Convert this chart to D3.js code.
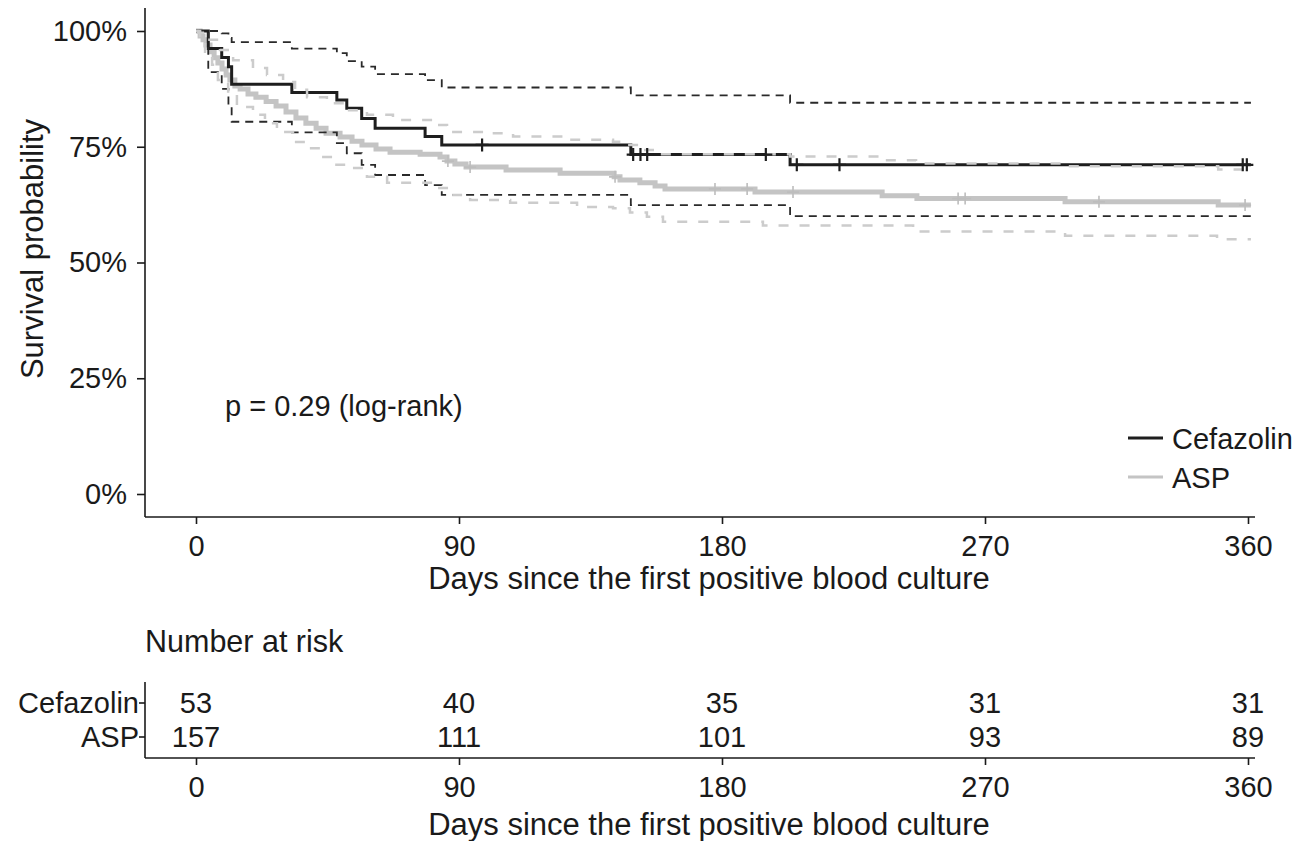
<html>
<head>
<meta charset="utf-8">
<title>Survival</title>
<style>
  body { margin: 0; background: #fff; }
  text { font-family: "Liberation Sans", Arial, sans-serif; font-size: 29px; fill: #1a1a1a; }
  .title { font-size: 31px; }
  .axis-line { stroke: #1a1a1a; stroke-width: 1.6; }
  .tick line { stroke: #1a1a1a; stroke-width: 1.6; }
  .main { fill: none; }
  .ci { fill: none; }
</style>
</head>
<body>
<svg width="1299" height="841"></svg>
<script src="https://cdnjs.cloudflare.com/ajax/libs/d3/7.8.5/d3.min.js"></script>
<script>
// Cefazolin: step times (days) and KM estimate with 95% CI
var cefTime  = [0, 4.2, 8.8, 11.1, 12.2, 32.8, 48.2, 51.6, 56.7, 61.3, 78.4, 84.1, 148.8, 203.3, 361];
var cefSurv  = [1, 0.962, 0.943, 0.923, 0.885, 0.867, 0.851, 0.833, 0.811, 0.790, 0.772, 0.754, 0.733, 0.711, 0.711];
var cefUpper = [1, 1, 0.995, 0.985, 0.976, 0.962, 0.952, 0.935, 0.923, 0.907, 0.894, 0.878, 0.861, 0.845, 0.845];
var cefLower = [1, 0.911, 0.875, 0.84, 0.804, 0.781, 0.758, 0.736, 0.711, 0.689, 0.667, 0.646, 0.624, 0.600, 0.600];
var cefCensor = [97.9, 149.6, 152.1, 154.4, 195, 205.6, 220.2, 358.2, 359.6];

// ASP
var aspTime = [0, 1.4, 2.4, 3.4, 4.8, 6.2, 7.5, 8.9, 10.3, 11.6, 13.3, 15.1, 17.8, 20.5, 24, 27.4, 30.8, 34.2, 37.6, 41.1,
               44.5, 49.3, 53.4, 56.8, 61.6, 66.4, 76.7, 83.5, 85.9, 88.6, 92.4, 106.1, 124.6, 143.1, 145.1, 151.9, 157.1,
               160.5, 191.3, 234.8, 246.7, 297.4, 349.8, 361];
var aspSurv = [1, .989, .981, .970, .955, .942, .931, .918, .905, .894, .881, .875, .864, .857, .848, .838, .825, .812, .801, .790,
               .779, .771, .762, .754, .745, .738, .734, .728, .719, .713, .706, .700, .693, .685, .678, .672, .665,
               .659, .652, .644, .638, .631, .624, .624];
var aspUpTime = [0, 0.7, 3.8, 8.2, 12.7, 19.5, 24.3, 29.8, 33.9, 38, 44.8, 51.7, 58.5, 67.4, 81.1, 85.9, 99.6, 108.5, 128,
                 142.7, 147.5, 151.9, 157.1, 203.3, 234.1, 246.4, 297.7, 349.8, 361];
var aspUpper  = [1, .996, .981, .959, .937, .920, .905, .890, .873, .857, .844, .829, .819, .808, .797, .782, .779, .772, .765,
                 .761, .754, .743, .734, .729, .721, .714, .708, .701, .701];
var aspLoTime = [0, 1.4, 3.1, 5.5, 7.5, 11, 14, 19.5, 23.6, 27.7, 33.2, 38, 42.4, 46.9, 51.7, 58.5, 65.4, 81.1, 86.9, 93.8,
                 107.5, 130.4, 142.7, 148.5, 154.3, 159.8, 194, 245.4, 297.4, 349.4, 361];
var aspLower  = [1, .976, .955, .927, .894, .862, .836, .819, .801, .782, .760, .747, .728, .711, .704, .685, .672, .661, .646, .635,
                 .629, .620, .617, .608, .599, .588, .580, .567, .558, .550, .550];
var aspCensor = [86.2, 93.8, 143.4, 177.6, 188.6, 204.3, 260.8, 263.2, 309, 359];

// number at risk table
var riskTicks = [0, 90, 180, 270, 360];
var cefRisk = [53, 40, 35, 31, 31];
var aspRisk = [157, 111, 101, 93, 89];
var yTicks = [0, 0.25, 0.5, 0.75, 1];

var svg = d3.select("svg");

var x = d3.scaleLinear().domain([0, 360]).range([196, 1248]);
var y = d3.scaleLinear().domain([0, 1]).range([494, 31]);

var panelLeft = 145, panelRight = 1255, panelTop = 8, panelBottom = 517;

var step = d3.line()
    .x(function(d) { return x(d[0]); })
    .y(function(d) { return y(d[1]); })
    .curve(d3.curveStepAfter);

function pairs(t, v) { return t.map(function(d, i) { return [d, v[i]]; }); }
function valueAt(t, v, day) { return v[d3.bisectRight(t, day) - 1]; }

// main curves
svg.append("path").attr("class", "main")
    .attr("d", step(pairs(aspTime, aspSurv)))
    .attr("stroke", "#c4c4c4").attr("stroke-width", 5);
svg.append("path").attr("class", "main")
    .attr("d", step(pairs(cefTime, cefSurv)))
    .attr("stroke", "#1e1e1e").attr("stroke-width", 3);

// confidence bands
[cefUpper, cefLower].forEach(function(b) {
  svg.append("path").attr("class", "ci")
      .attr("d", step(pairs(cefTime, b)))
      .attr("stroke", "#2a2a2a").attr("stroke-width", 1.8)
      .attr("stroke-dasharray", "8,6");
});
[[aspUpTime, aspUpper], [aspLoTime, aspLower]].forEach(function(b) {
  svg.append("path").attr("class", "ci")
      .attr("d", step(pairs(b[0], b[1])))
      .attr("stroke", "#cccccc").attr("stroke-width", 2.5)
      .attr("stroke-dasharray", "10,11");
});

// censor marks
function crosses(days, t, v, color, w, h) {
  svg.append("g").selectAll("path")
    .data(days)
    .enter().append("path")
      .attr("d", function(d) {
        var cx = x(d), cy = y(valueAt(t, v, d));
        return "M" + (cx - h) + "," + cy + "H" + (cx + h) + "M" + cx + "," + (cy - h) + "V" + (cy + h);
      })
      .attr("stroke", color).attr("stroke-width", w).attr("fill", "none");
}
crosses(aspCensor, aspTime, aspSurv, "#bdbdbd", 1.6, 6);
crosses(cefCensor, cefTime, cefSurv, "#1e1e1e", 2.2, 6.5);

// axes
var yAxis = svg.append("g")
    .attr("transform", "translate(" + panelLeft + ",0)")
    .call(d3.axisLeft(y).tickValues(yTicks).tickFormat(d3.format(".0%")).tickSize(8).tickPadding(10));
yAxis.select(".domain").remove();
yAxis.selectAll("text").style("font-size", "29px").attr("fill", "#1a1a1a");

var xAxis = svg.append("g")
    .attr("transform", "translate(0," + panelBottom + ")")
    .call(d3.axisBottom(x).tickValues(riskTicks).tickSize(7).tickPadding(11));
xAxis.select(".domain").remove();
xAxis.selectAll("text").style("font-size", "29px").attr("fill", "#1a1a1a");

svg.append("line").attr("class", "axis-line")
    .attr("x1", panelLeft).attr("x2", panelLeft).attr("y1", panelTop).attr("y2", panelBottom);
svg.append("line").attr("class", "axis-line")
    .attr("x1", panelLeft).attr("x2", panelRight).attr("y1", panelBottom).attr("y2", panelBottom);

svg.append("text").attr("class", "title")
    .attr("transform", "translate(43,249) rotate(-90)")
    .attr("text-anchor", "middle")
    .text("Survival probability");

svg.append("text").attr("class", "title")
    .attr("x", 709).attr("y", 589)
    .attr("text-anchor", "middle")
    .text("Days since the first positive blood culture");

svg.append("text")
    .attr("x", 225).attr("y", 416)
    .text("p = 0.29 (log-rank)");

// legend
var legend = [["Cefazolin", "#1e1e1e", 438], ["ASP", "#c4c4c4", 477]];
legend.forEach(function(l) {
  svg.append("line")
      .attr("x1", 1128).attr("x2", 1163).attr("y1", l[2]).attr("y2", l[2])
      .attr("stroke", l[1]).attr("stroke-width", 3);
  svg.append("text").attr("x", 1172).attr("y", l[2] + 11).text(l[0]);
});

// risk table
svg.append("text").attr("x", 145).attr("y", 652).style("font-size", "30.5px").text("Number at risk");

var rows = [["Cefazolin", cefRisk, 703], ["ASP", aspRisk, 737]];
rows.forEach(function(r) {
  svg.append("text")
      .attr("x", 139).attr("y", r[2] + 10)
      .attr("text-anchor", "end")
      .text(r[0]);
  svg.append("line")
      .attr("x1", 139).attr("x2", panelLeft).attr("y1", r[2]).attr("y2", r[2])
      .attr("stroke", "#1a1a1a").attr("stroke-width", 1.6);
  svg.append("g").selectAll("text")
    .data(r[1])
    .enter().append("text")
      .attr("x", function(d, i) { return x(riskTicks[i]); })
      .attr("y", r[2] + 10)
      .attr("text-anchor", "middle")
      .text(function(d) { return d; });
});

var tAxis = svg.append("g")
    .attr("transform", "translate(0,758)")
    .call(d3.axisBottom(x).tickValues(riskTicks).tickSize(7).tickPadding(11));
tAxis.select(".domain").remove();
tAxis.selectAll("text").style("font-size", "29px").attr("fill", "#1a1a1a");

svg.append("line").attr("class", "axis-line")
    .attr("x1", panelLeft).attr("x2", panelLeft).attr("y1", 682).attr("y2", 758);
svg.append("line").attr("class", "axis-line")
    .attr("x1", panelLeft).attr("x2", panelRight).attr("y1", 758).attr("y2", 758);

svg.append("text").attr("class", "title")
    .attr("x", 709).attr("y", 835)
    .attr("text-anchor", "middle")
    .text("Days since the first positive blood culture");
</script>
</body>
</html>
